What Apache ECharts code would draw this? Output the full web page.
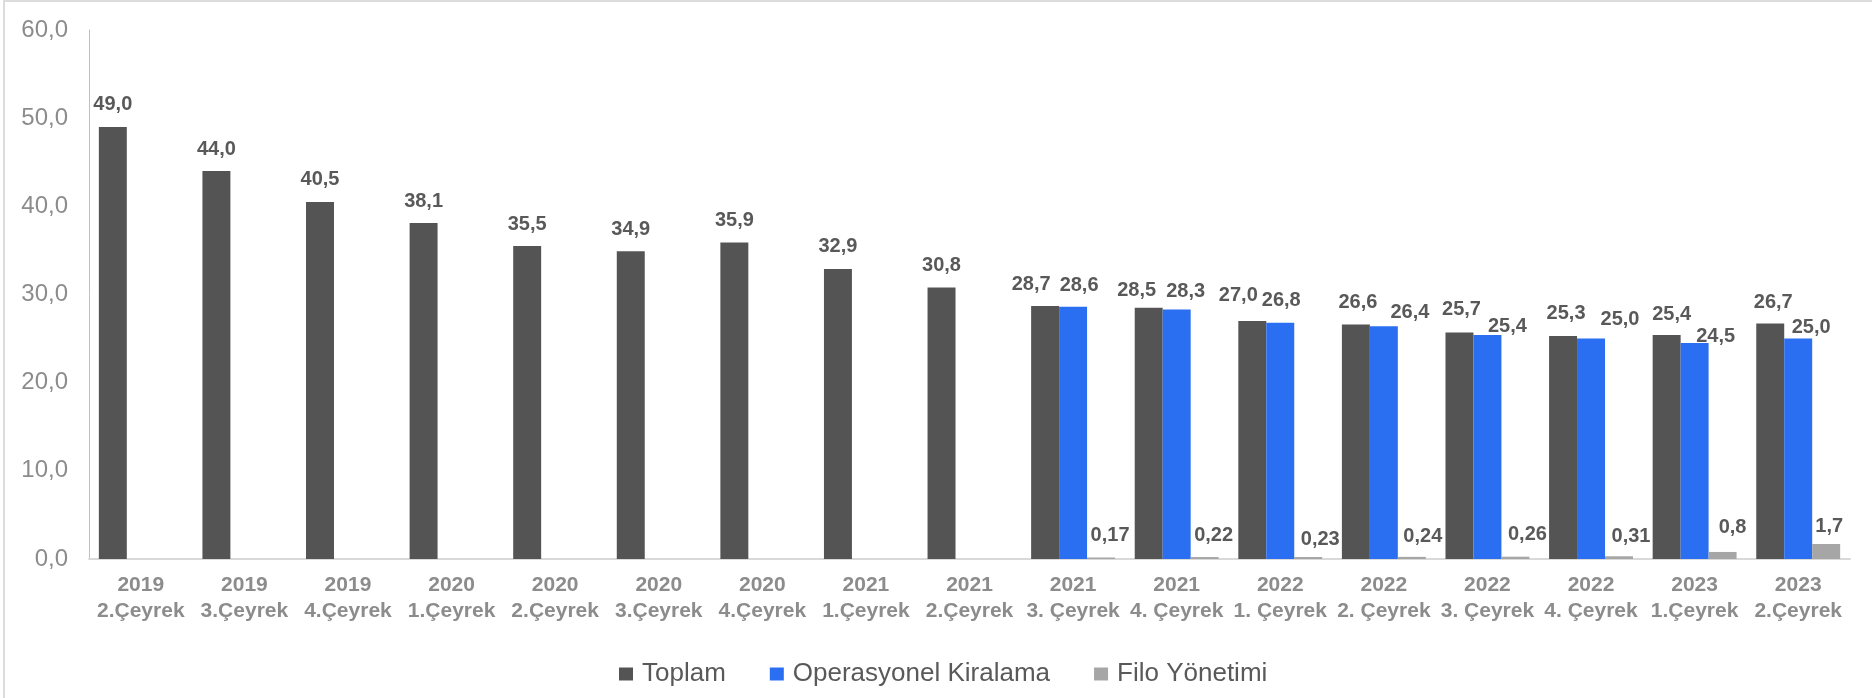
<!DOCTYPE html>
<html>
<head>
<meta charset="utf-8">
<script src="https://cdn.jsdelivr.net/npm/echarts@6/dist/echarts.min.js"></script>
<style>
html,body{margin:0;padding:0;background:#fff;}
#frame{position:absolute;left:3px;top:0;width:1869px;height:698px;border-left:2px solid #dcdcdc;border-top:2px solid #dcdcdc;box-sizing:border-box;}
#chart{position:absolute;left:0;top:0;width:1872px;height:698px;}
</style>
</head>
<body>
<div id="frame"></div>
<div id="chart"></div>
<script>
const categories = [
  "2019\n2.Çeyrek","2019\n3.Çeyrek","2019\n4.Çeyrek","2020\n1.Çeyrek","2020\n2.Çeyrek",
  "2020\n3.Çeyrek","2020\n4.Çeyrek","2021\n1.Çeyrek","2021\n2.Çeyrek","2021\n3. Çeyrek",
  "2021\n4. Çeyrek","2022\n1. Çeyrek","2022\n2. Çeyrek","2022\n3. Çeyrek","2022\n4. Çeyrek",
  "2023\n1.Çeyrek","2023\n2.Çeyrek"
];
const toplam = [49.0,44.0,40.5,38.1,35.5,34.9,35.9,32.9,30.8,28.7,28.5,27.0,26.6,25.7,25.3,25.4,26.7];
const operasyonel = [null,null,null,null,null,null,null,null,null,28.6,28.3,26.8,26.4,25.4,25.0,24.5,25.0];
const filo = [null,null,null,null,null,null,null,null,null,0.17,0.22,0.23,0.24,0.26,0.31,0.8,1.7];
const yTicks = [0,10,20,30,40,50,60];

// label nudges (style only), [dx, dy] per category, as placed in the original
const toplamNudge = [[0,0],[0,0],[0,0],[0,0],[0,0],[0,0],[0,0],[0,0],[0,0],
  [-14,1],[-12,5],[-14,-3],[2,0],[2,-1],[3,0],[5,1],[3,1]];
const operNudge = [[0,0],[0,0],[0,0],[0,0],[0,0],[0,0],[0,0],[0,0],[0,0],
  [6,1],[9,4],[1,0],[26,8],[20,13],[29,3],[21,15],[13,11]];
const filoNudge = [[0,0],[0,0],[0,0],[0,0],[0,0],[0,0],[0,0],[0,0],[0,0],
  [9,0],[9,0],[12,5],[11,2],[12,0],[12,2],[10,-2],[3,4]];

const FONT = 'Liberation Sans, Arial, Helvetica, sans-serif';
const labelBase = {show:true, position:'top', distance:12, color:'#595959', fontWeight:'bold', fontSize:20, fontFamily:FONT};
const fmt1 = p => p.value == null ? '' : p.value.toFixed(1).replace('.', ',');
const fmtRaw = p => p.value == null ? '' : String(p.value).replace('.', ',');

function withNudge(values, nudges) {
  return values.map((v, i) => v == null ? null : ({value: v, label: {offset: nudges[i]}}));
}

const chart = echarts.init(document.getElementById('chart'), null, {renderer:'canvas'});
chart.setOption({
  animation:false,
  backgroundColor:'transparent',
  grid:{left:89, right:22, top:30, bottom:139, containLabel:false},
  legend:{
    left:619, top:661, padding:0, itemWidth:14, itemHeight:13, itemGap:44,
    icon:'rect',
    textStyle:{color:'#595959', fontSize:26, fontFamily:FONT, padding:[0,0,0,4]},
    data:['Toplam','Operasyonel Kiralama','Filo Yönetimi']
  },
  xAxis:{
    type:'category', data:categories,
    axisLine:{lineStyle:{color:'#d9d9d9', width:2}},
    axisTick:{show:false},
    axisLabel:{color:'#8c8c8c', fontWeight:'bold', fontSize:21, lineHeight:26, margin:13, interval:0, fontFamily:FONT}
  },
  yAxis:{
    type:'value', min:yTicks[0], max:yTicks[yTicks.length-1], interval:10,
    axisLine:{show:true, lineStyle:{color:'#bfbfbf', width:1}},
    axisTick:{show:false},
    splitLine:{show:false},
    axisLabel:{color:'#8c8c8c', fontSize:24, margin:21, fontFamily:FONT,
      formatter:v => v.toFixed(1).replace('.', ',')}
  },
  series:[
    {name:'Toplam', type:'bar', data:withNudge(toplam, toplamNudge), barGap:'0%', barCategoryGap:'19%',
      itemStyle:{color:'#545454'}, label:Object.assign({}, labelBase, {formatter:fmt1})},
    {name:'Operasyonel Kiralama', type:'bar', data:withNudge(operasyonel, operNudge), barGap:'0%',
      itemStyle:{color:'#2a6ef2'}, label:Object.assign({}, labelBase, {formatter:fmt1})},
    {name:'Filo Yönetimi', type:'bar', data:withNudge(filo, filoNudge), barGap:'0%',
      itemStyle:{color:'#a6a6a6'}, label:Object.assign({}, labelBase, {formatter:fmtRaw})}
  ]
});
</script>
</body>
</html>
